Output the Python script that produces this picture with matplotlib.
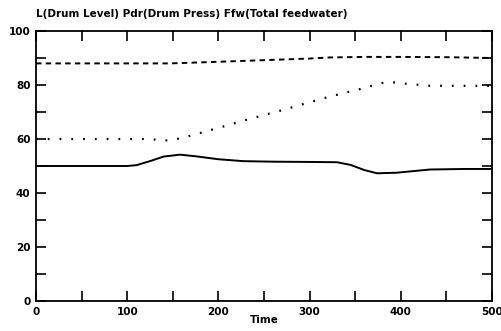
import matplotlib
matplotlib.use("Agg")
import matplotlib.pyplot as plt
import numpy as np

# Data
t_level = [0, 50, 100, 110, 125, 140, 158, 175, 200, 227, 260, 300, 330, 345, 360, 374, 395, 432, 470, 500]
level   = [50, 50, 50, 50.3, 51.8, 53.5, 54.2, 53.6, 52.5, 51.8, 51.6, 51.5, 51.4, 50.4, 48.5, 47.3, 47.5, 48.7, 48.9, 48.9]

t_press = [0, 50, 100, 147, 200, 250, 300, 322, 360, 400, 450, 500]
press   = [88, 88, 88, 88, 88.6, 89.2, 89.8, 90.2, 90.4, 90.4, 90.3, 90.0]

t_ffw = [0, 50, 100, 121, 147, 165, 202, 235, 268, 300, 322, 359, 375, 386, 405, 432, 470, 500]
ffw   = [60, 60, 60, 60, 59.4, 60.8, 64.3, 67.5, 70.5, 73.6, 75.7, 78.8, 80.4, 81.2, 80.5, 79.7, 79.7, 79.7]

xticks_major = [0, 100, 200, 300, 400, 500]
yticks_major = [0, 20, 40, 60, 80, 100]

title = "L(Drum Level) Pdr(Drum Press) Ffw(Total feedwater)"
xlabel = "Time"

fig = plt.figure(figsize=(5.01, 3.31), dpi=100)
ax = fig.add_axes([36/501, 30/331, (492-36)/501, (301-31)/331])

ax.plot(t_level, level, color="black", lw=1.4, ls="-")
ax.plot(t_press, press, color="black", lw=1.4, ls=(0, (2.8, 2.2)))
ax.plot(t_ffw, ffw, color="black", lw=1.6, ls=(0, (0.8, 4.5)))

ax.set_xlim(0, 500)
ax.set_ylim(0, 100)
ax.set_xticks(xticks_major)
ax.set_yticks(yticks_major)
ax.set_xticks(np.arange(0, 501, 50), minor=True)
ax.set_yticks(np.arange(0, 101, 10), minor=True)
ax.tick_params(which="both", direction="in", top=True, right=True, width=1.2, color="black")
ax.tick_params(which="major", length=7, labelsize=7.5, pad=4)
ax.tick_params(which="minor", length=7)
for lab in ax.get_xticklabels() + ax.get_yticklabels():
    lab.set_fontweight("bold")
for s in ax.spines.values():
    s.set_linewidth(1.3)

ax.set_xlabel(xlabel, fontsize=7.5, fontweight="bold", labelpad=-1)
fig.text(36/501, 1 - 14/331, title, fontsize=7.5, fontweight="bold", ha="left", va="center")

fig.savefig("out.png", dpi=100)
